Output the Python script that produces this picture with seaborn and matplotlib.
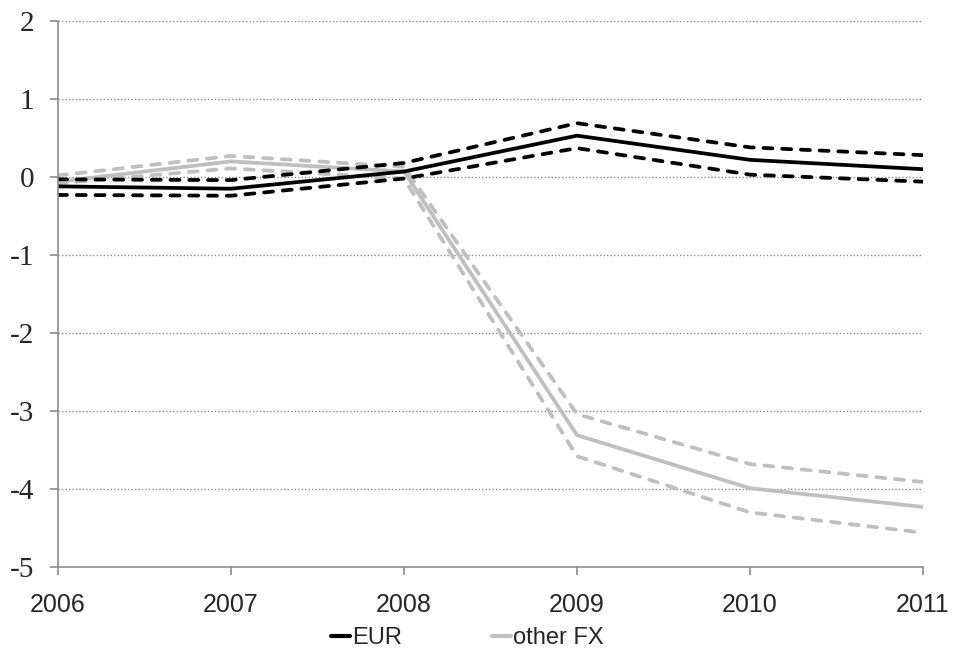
import matplotlib
matplotlib.use("Agg")
from matplotlib import pyplot as plt
from matplotlib.lines import Line2D
import seaborn as sns
import pandas as pd

years = [2006, 2007, 2008, 2009, 2010, 2011]

eur_mid = [-0.12, -0.15, 0.07, 0.53, 0.22, 0.10]
eur_upper = [-0.03, -0.04, 0.18, 0.69, 0.38, 0.28]
eur_lower = [-0.23, -0.24, -0.02, 0.37, 0.03, -0.06]

fx_mid = [-0.06, 0.20, 0.07, -3.31, -3.99, -4.23]
fx_upper = [0.02, 0.27, 0.13, -3.04, -3.68, -3.91]
fx_lower = [-0.08, 0.11, -0.02, -3.58, -4.30, -4.56]

y_ticks = [2, 1, 0, -1, -2, -3, -4, -5]

df = pd.DataFrame({
    "year": years,
    "eur_mid": eur_mid, "eur_upper": eur_upper, "eur_lower": eur_lower,
    "fx_mid": fx_mid, "fx_upper": fx_upper, "fx_lower": fx_lower,
})

sns.set_style("white")
black = "#000000"
grey = "#BFBFBF"
lw = 2.7

fig = plt.figure(figsize=(9.54, 6.59), dpi=100)
ax = fig.add_axes([58 / 954, 1 - 567 / 659, 865 / 954, 546 / 659])

def dashed(col, color):
    sns.lineplot(data=df, x="year", y=col, color=color, lw=lw, ax=ax, legend=False)
    line = ax.lines[-1]
    line.set_dashes((2.4, 2.6))
    line.set_dash_capstyle("round")

# grey series first, black on top
sns.lineplot(data=df, x="year", y="fx_mid", color=grey, lw=lw, ax=ax, legend=False)
dashed("fx_upper", grey)
dashed("fx_lower", grey)
sns.lineplot(data=df, x="year", y="eur_mid", color=black, lw=lw, ax=ax, legend=False)
dashed("eur_upper", black)
dashed("eur_lower", black)

ax.set_xlim(2006, 2011)
ax.set_ylim(-5, 2)
ax.set_yticks(y_ticks)
ax.set_yticklabels([str(t) for t in y_ticks], fontfamily="Liberation Serif", fontsize=21)
ax.set_xticks(years)
ax.set_xticklabels([str(y) for y in years], fontfamily="Liberation Sans", fontsize=18)
ax.set_xlabel("")
ax.set_ylabel("")

for t in y_ticks:
    if t != -5:
        ax.axhline(t, color="#8C8C8C", lw=1, ls=(0, (1, 1.5)), zorder=0)

for side in ["top", "right"]:
    ax.spines[side].set_visible(False)
for side in ["left", "bottom"]:
    ax.spines[side].set_color("#8C8C8C")
    ax.spines[side].set_linewidth(1.2)
ax.tick_params(axis="x", direction="out", length=6, color="#8C8C8C", width=1.2, pad=13, bottom=True)
ax.tick_params(axis="y", direction="out", length=6, color="#8C8C8C", width=1.2, pad=11, left=True)

handles = [Line2D([0], [0], color=black, lw=3), Line2D([0], [0], color=grey, lw=3)]
fig.legend(handles, ["EUR", "other FX"], loc="center", bbox_to_anchor=(0.49, 0.032), ncol=2,
           frameon=False, handlelength=0.8, handletextpad=0.1, columnspacing=3.8,
           prop={"family": "Liberation Sans", "size": 17})

fig.savefig("out.png", dpi=100)
